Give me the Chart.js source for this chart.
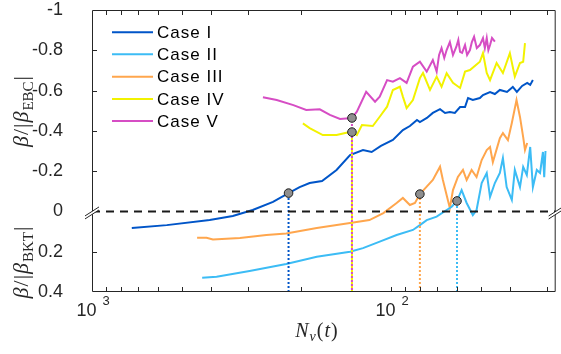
<!DOCTYPE html>
<html>
<head>
<meta charset="UTF-8">
<title>beta vs Nv</title>
<style>
  body { margin: 0; background: #fff; }
  .chartBox { width: 561px; height: 354px; }
</style>
</head>
<body>
<div class="chartBox"><canvas id="myChart" width="561" height="354"></canvas></div>
<script src="https://cdn.jsdelivr.net/npm/chart.js"></script>
<script>
// data: N_v(t) and beta/|beta_c|
const caseI_N = [736, 562, 404, 338, 290, 248, 220, 202, 187, 170, 152, 137, 124, 116, 108, 98.5, 91.2, 86.4, 81.8, 80.0, 75.8, 72.4, 68.5, 65.9, 63.5, 61.1, 58.7, 56.5, 55.2, 53.2, 50.4, 49.2, 46.6, 44.9, 43.2, 40.9, 39.1, 37.9, 36.4, 35.0, 34.2, 33.5];
const caseI_b = [0.082, 0.068, 0.043, 0.023, -0.007, -0.047, -0.091, -0.121, -0.141, -0.151, -0.206, -0.280, -0.305, -0.295, -0.325, -0.355, -0.404, -0.424, -0.454, -0.444, -0.464, -0.489, -0.508, -0.489, -0.494, -0.489, -0.518, -0.518, -0.563, -0.553, -0.563, -0.578, -0.593, -0.583, -0.603, -0.593, -0.618, -0.593, -0.623, -0.638, -0.628, -0.652];

const caseII_N = [428, 383, 297, 224, 177, 137, 124, 109, 95.7, 84.4, 80.0, 75.9, 70.3, 65.1, 62.6, 60.1, 58.0, 55.8, 53.2, 51.7, 49.7, 47.8, 46.6, 44.9, 43.2, 42.2, 41.0, 39.4, 38.5, 37.0, 36.1, 35.1, 34.2, 33.5, 32.5, 31.7, 31.0, 30.7, 30.4];
const caseII_b = [0.329, 0.324, 0.296, 0.261, 0.225, 0.200, 0.182, 0.150, 0.117, 0.092, 0.068, 0.043, 0.026, -0.007, -0.023, -0.052, -0.106, -0.042, 0.018, -0.007, -0.141, -0.191, -0.072, -0.141, -0.191, -0.265, -0.121, -0.057, -0.206, -0.121, -0.221, -0.181, -0.320, -0.121, -0.206, -0.191, -0.295, -0.170, -0.300];

const caseIII_N = [445, 414, 394, 320, 261, 224, 177, 137, 118, 106, 95.7, 91.2, 86.4, 83.1, 80.0, 75.9, 72.4, 68.5, 67.0, 64.5, 63.5, 62.0, 59.7, 57.4, 55.8, 53.7, 51.7, 49.7, 47.8, 46.6, 45.6, 43.2, 42.2, 40.6, 39.4, 38.0, 37.0, 36.1, 35.6, 35.0];
const caseIII_b = [0.131, 0.131, 0.139, 0.132, 0.117, 0.109, 0.082, 0.058, 0.043, 0.008, -0.042, -0.067, -0.032, -0.042, -0.086, -0.123, -0.156, -0.222, -0.156, -0.057, -0.017, -0.106, -0.171, -0.206, -0.156, -0.206, -0.171, -0.255, -0.305, -0.320, -0.245, -0.364, -0.389, -0.354, -0.439, -0.553, -0.469, -0.369, -0.305, -0.340];

const caseIV_N = [197, 187, 169, 152, 141, 135, 130, 125, 115, 109, 103, 98.5, 93.3, 91.2, 88.6, 84.4, 80.0, 78.1, 74.0, 70.3, 67.7, 65.1, 62.0, 58.7, 56.5, 54.4, 50.4, 49.2, 47.8, 46.6, 44.3, 42.2, 40.0, 38.5, 37.0, 36.1, 35.6];
const caseIV_b = [-0.437, -0.414, -0.379, -0.379, -0.391, -0.394, -0.379, -0.429, -0.424, -0.470, -0.520, -0.603, -0.619, -0.570, -0.513, -0.553, -0.662, -0.687, -0.603, -0.669, -0.619, -0.686, -0.638, -0.613, -0.694, -0.702, -0.743, -0.786, -0.687, -0.652, -0.737, -0.687, -0.786, -0.669, -0.737, -0.743, -0.836];

const caseV_N = [268, 241, 212, 192, 173, 160, 148, 135, 130, 121, 113, 109, 103, 98.5, 93.3, 88.6, 84.4, 80.0, 75.9, 72.4, 70.3, 69.0, 67.7, 66.3, 65.1, 63.5, 62.0, 60.4, 59.5, 58.7, 57.8, 56.5, 55.6, 54.4, 53.6, 52.7, 51.6, 50.4, 49.2, 48.5, 47.8, 47.2, 46.6, 45.9, 44.9];
const caseV_b = [-0.567, -0.553, -0.528, -0.504, -0.507, -0.479, -0.459, -0.464, -0.495, -0.594, -0.545, -0.570, -0.652, -0.644, -0.662, -0.638, -0.719, -0.743, -0.694, -0.752, -0.694, -0.777, -0.811, -0.762, -0.801, -0.841, -0.777, -0.818, -0.851, -0.792, -0.787, -0.826, -0.777, -0.801, -0.841, -0.867, -0.811, -0.826, -0.861, -0.811, -0.861, -0.801, -0.826, -0.861, -0.843];

// crossing points (grey circles), order: I, II, III, IV, V
const mark_N = [220, 60.1, 80.0, 135, 135];
const mark_b = [-0.091, -0.052, -0.086, -0.394, -0.464];

const caseNames = ['Case I', 'Case II', 'Case III', 'Case IV', 'Case V'];
const caseColors = ['#0055c8', '#3cbcf5', '#ffa64d', '#f2f200', '#d64dc4'];

const yTicks = [-1, -0.8, -0.6, -0.4, -0.2, 0, 0.2, 0.4];
const xTicks = [30, 40, 50, 60, 70, 80, 90, 100, 200, 300, 400, 500, 600, 700, 800, 900, 1000];
const xMin = 28.1, xMax = 1000;
const bottomVal = 0.4;

const pts = (xs, ys) => xs.map((x, i) => ({x: x, y: ys[i]}));

const caseData = [
    pts(caseI_N, caseI_b),
    pts(caseII_N, caseII_b),
    pts(caseIII_N, caseIII_b),
    pts(caseIV_N, caseIV_b),
    pts(caseV_N, caseV_b)
];

const datasets = [];

// markers on top
datasets.push({
    label: 'marks',
    type: 'scatter',
    data: pts(mark_N, mark_b),
    pointRadius: 4.3,
    pointBackgroundColor: '#8e8e8e',
    pointBorderColor: '#1e1e1e',
    pointBorderWidth: 1,
    showLine: false,
    order: 0
});

// zero line
datasets.push({
    label: 'zero',
    data: pts([xMax, xMin], [0, 0]),
    borderColor: '#1a1a1a',
    borderWidth: 2,
    borderDash: [8, 6],
    pointRadius: 0,
    order: 1
});

// dotted drop lines, drawn upward from the bottom so IV and V interleave
mark_N.forEach((n, i) => {
    datasets.push({
        label: 'drop' + i,
        data: pts([n, n], [bottomVal, mark_b[i]]),
        borderColor: caseColors[i],
        borderWidth: 2,
        borderDash: [2, 2],
        borderDashOffset: i === 4 ? 2 : 0,
        pointRadius: 0,
        order: i === 4 ? 1.5 : 2
    });
});

// the five curves
const curveOrder = [3, 4, 5, 6, 7];
caseData.forEach((d, i) => {
    datasets.push({
        label: caseNames[i],
        data: d,
        borderColor: caseColors[i],
        borderWidth: 2,
        pointRadius: 0,
        tension: 0,
        order: curveOrder[i]
    });
});

const fontSans = '"Liberation Sans", Arial, sans-serif';
const fontMath = '"Liberation Serif", "DejaVu Serif", serif';
const ink = '#262626';

// frame, inward ticks, axis break marks, x labels, titles, legend
const decorations = {
    id: 'decorations',
    afterDraw(chart) {
        const ctx = chart.ctx;
        const xs = chart.scales.x, ys = chart.scales.y;
        const L = xs.left, R = xs.right, T = ys.top, B = ys.bottom;
        const y0 = ys.getPixelForValue(0);
        const tl = 5;
        ctx.save();
        ctx.setLineDash([]);
        ctx.strokeStyle = ink;
        ctx.lineWidth = 1;
        ctx.beginPath();
        ctx.moveTo(L + 0.5, T + 0.5);
        ctx.lineTo(R - 0.5, T + 0.5);
        ctx.lineTo(R - 0.5, B - 0.5);
        ctx.lineTo(L + 0.5, B - 0.5);
        ctx.closePath();
        // x ticks top & bottom
        xTicks.forEach(v => {
            const px = Math.round(xs.getPixelForValue(v)) + 0.5;
            if (px <= L + 1 || px >= R - 1) return;
            ctx.moveTo(px, B); ctx.lineTo(px, B - tl);
            ctx.moveTo(px, T); ctx.lineTo(px, T + tl);
        });
        // y ticks left & right
        yTicks.forEach(v => {
            if (v === 0) return;
            const py = Math.round(ys.getPixelForValue(v)) + 0.5;
            if (py <= T + 1 || py >= B - 1) return;
            ctx.moveTo(L, py); ctx.lineTo(L + tl, py);
            ctx.moveTo(R, py); ctx.lineTo(R - tl, py);
        });
        ctx.stroke();

        // break marks
        [L, R].forEach(bx => {
            ctx.fillStyle = '#fff';
            ctx.beginPath();
            ctx.moveTo(bx - 6, y0 + 4);
            ctx.lineTo(bx + 6, y0 - 4);
            ctx.lineTo(bx + 6, y0 - 1);
            ctx.lineTo(bx - 6, y0 + 7);
            ctx.closePath();
            ctx.fill();
            ctx.beginPath();
            ctx.moveTo(bx - 7, y0 + 4.5); ctx.lineTo(bx + 7, y0 - 4.5);
            ctx.moveTo(bx - 7, y0 + 7.5); ctx.lineTo(bx + 7, y0 - 1.5);
            ctx.stroke();
        });

        // x tick labels 10^3, 10^2
        ctx.fillStyle = ink;
        [[1000, '3'], [100, '2']].forEach(([v, e]) => {
            const px = xs.getPixelForValue(v);
            ctx.font = '18px ' + fontSans;
            ctx.textAlign = 'right';
            ctx.textBaseline = 'alphabetic';
            ctx.fillText('10', px + 4.5, 316);
            ctx.font = '13px ' + fontSans;
            ctx.textAlign = 'left';
            ctx.fillText(e, px + 10.5, 305);
        });

        // x title N_v(t)
        drawMath(ctx, [['N', 'i', 20, 0], ['v', 'i', 14, 4], ['(', 'r', 20, 0], ['t', 'i', 20, 0], [')', 'r', 20, 0]], 317, 337, 0);
        // y titles
        const yTitle = sub => [['\u03b2', 'i', 22, 0], ['/', 'r', 22, 0], ['|', 'r', 22, 0], ['\u03b2', 'i', 22, 0], [sub, 'r', 15, 5], ['|', 'r', 22, 0]];
        drawMath(ctx, yTitle('EBC'), 111, 28, -Math.PI / 2);
        drawMath(ctx, yTitle('BKT'), 262, 28, -Math.PI / 2);

        // legend
        ctx.lineWidth = 2;
        const rows = [32.3, 54.3, 76.7, 99, 121];
        caseNames.forEach((name, i) => {
            ctx.strokeStyle = caseColors[i];
            ctx.beginPath();
            ctx.moveTo(112, rows[i]); ctx.lineTo(153, rows[i]);
            ctx.stroke();
            ctx.fillStyle = '#000';
            ctx.font = '17px ' + fontSans;
            ctx.letterSpacing = '1px';
            ctx.textAlign = 'left';
            ctx.textBaseline = 'middle';
            ctx.fillText(name, 157, rows[i] + 1);
        });
        ctx.restore();
    }
};

// draw a small run of math text pieces [text, style, size, drop], centred on (c, base)
function drawMath(ctx, parts, c, base, rot) {
    ctx.save();
    let w = 0;
    parts.forEach(p => {
        ctx.font = (p[1] === 'i' ? 'italic ' : '') + p[2] + 'px ' + fontMath;
        w += ctx.measureText(p[0]).width + 1;
    });
    if (rot) {
        ctx.translate(base, c);
        ctx.rotate(rot);
    } else {
        ctx.translate(c, base);
    }
    let x = -w / 2;
    ctx.fillStyle = ink;
    ctx.textAlign = 'left';
    ctx.textBaseline = 'alphabetic';
    parts.forEach(p => {
        ctx.font = (p[1] === 'i' ? 'italic ' : '') + p[2] + 'px ' + fontMath;
        ctx.fillText(p[0], x, p[3]);
        x += ctx.measureText(p[0]).width + 1;
    });
    ctx.restore();
}

const noPad = scale => {
    scale.paddingTop = 0; scale.paddingBottom = 0;
    scale.paddingLeft = 0; scale.paddingRight = 0;
};

const config = {
    type: 'line',
    data: { datasets: datasets },
    options: {
        responsive: false,
        animation: false,
        devicePixelRatio: 1,
        layout: { padding: { top: 10, right: 5, left: 0, bottom: 0 } },
        plugins: {
            legend: { display: false },
            tooltip: { enabled: false }
        },
        scales: {
            x: {
                type: 'logarithmic',
                reverse: true,
                min: xMin,
                max: xMax,
                grid: { display: false },
                border: { display: false },
                ticks: { display: false },
                afterBuildTicks: scale => { scale.ticks = xTicks.map(v => ({value: v})); },
                afterFit: scale => { scale.height = 62; noPad(scale); }
            },
            y: {
                type: 'linear',
                reverse: true,
                min: -1,
                max: bottomVal,
                grid: { display: false },
                border: { display: false },
                afterBuildTicks: scale => { scale.ticks = yTicks.map(v => ({value: v})); },
                ticks: {
                    padding: 21,
                    color: ink,
                    font: { family: fontSans, size: 18 },
                    callback: v => String(v)
                },
                afterFit: scale => { scale.width = 92; noPad(scale); }
            }
        }
    },
    plugins: [decorations]
};

const myChart = new Chart(document.getElementById('myChart'), config);
</script>
</body>
</html>
